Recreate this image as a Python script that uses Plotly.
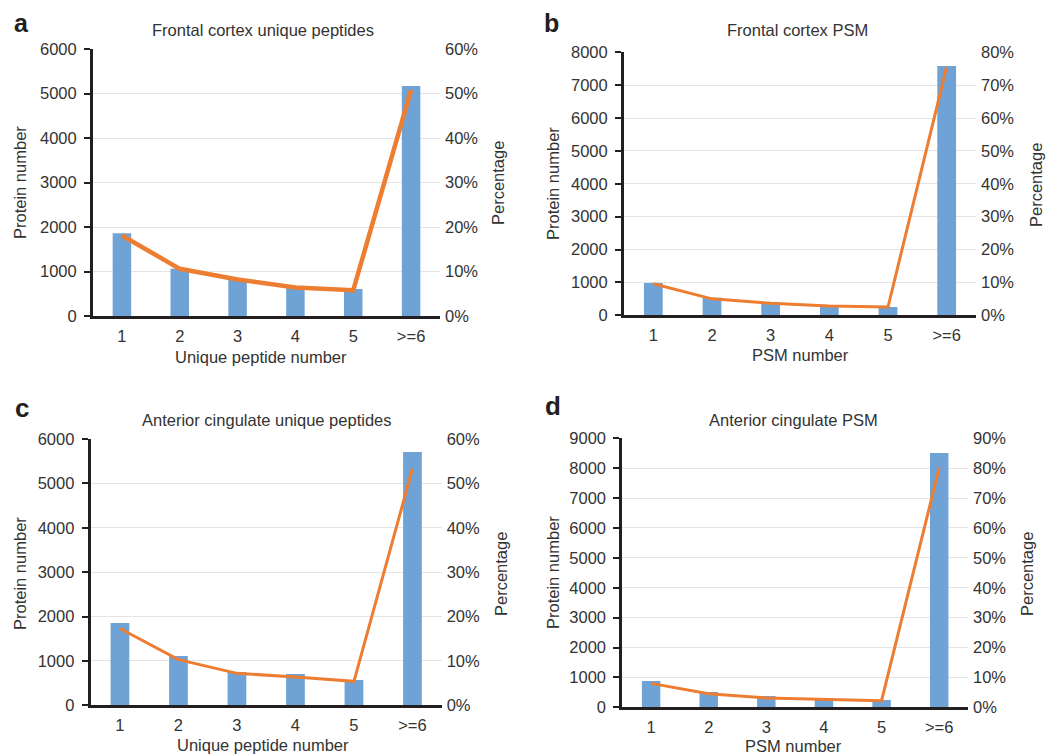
import plotly.graph_objects as go

# The page body adds an 8px margin, so the figure is drawn 8px smaller
# and all reference pixel positions are shifted by OFF.
OFF = 8
W, H = 1056 - OFF, 756 - OFF

categories = ["1", "2", "3", "4", "5", ">=6"]

fc_pep_counts = [1858, 1064, 830, 650, 607, 5169]
fc_pep_pct = [0.181, 0.106, 0.082, 0.064, 0.058, 0.508]

fc_psm_counts = [984, 537, 385, 284, 254, 7586]
fc_psm_pct = [0.096, 0.050, 0.0365, 0.028, 0.025, 0.756]

ac_pep_counts = [1854, 1111, 751, 706, 571, 5706]
ac_pep_pct = [0.173, 0.103, 0.072, 0.064, 0.054, 0.533]

ac_psm_counts = [881, 513, 379, 290, 245, 8509]
ac_psm_pct = [0.080, 0.045, 0.031, 0.027, 0.022, 0.801]

titles = ["Frontal cortex unique peptides", "Frontal cortex PSM",
          "Anterior cingulate unique peptides", "Anterior cingulate PSM"]
xtitles = ["Unique peptide number", "PSM number", "Unique peptide number", "PSM number"]
letters = ["a", "b", "c", "d"]
ymaxs = [6000, 8000, 6000, 9000]
pmaxs = [0.6, 0.8, 0.6, 0.9]
counts_list = [fc_pep_counts, fc_psm_counts, ac_pep_counts, ac_psm_counts]
pct_list = [fc_pep_pct, fc_psm_pct, ac_pep_pct, ac_psm_pct]

# pixel geometry in the reference: (left, right, top, bottom)
boxes = [(93, 440, 49, 316), (624, 976, 52.3, 315.3),
         (90.7, 441.7, 439, 705.3), (622.3, 968, 438.3, 707.3)]
title_pos = [(263, 30), (797, 30), (267, 420), (793, 420)]
xt_pos = [(261, 357), (800, 355), (263, 745), (793, 746)]
yt_pos = [(20, 183), (553, 184), (20, 574), (553, 573)]
rt_pos = [(498, 183), (1036, 185), (501, 574), (1027, 574)]
letter_pos = [(13, 20), (543, 20), (13, 408), (543, 406)]
line_widths = [4.5, 3, 3, 3]

BAR = "#70a3d5"
ORANGE = "#ed7d31"
DARK = "#231f20"
TXT = "#333333"
FONT = "Liberation Sans, Arial, sans-serif"


def px(x):
    return (x - OFF) / W


def py(y):
    return 1 - (y - OFF) / H


fig = go.Figure()
layout = {}
annotations = []

for k in range(4):
    xn = "x" if k == 0 else f"x{k+1}"
    yl_n = "y" if k == 0 else f"y{2*k+1}"
    yr_n = f"y{2*k+2}"
    xkey = "xaxis" if k == 0 else f"xaxis{k+1}"
    ylkey = "yaxis" if k == 0 else f"yaxis{2*k+1}"
    yrkey = f"yaxis{2*k+2}"
    l, r, t, b = boxes[k]

    fig.add_trace(go.Bar(x=categories, y=counts_list[k], xaxis=xn, yaxis=yl_n,
                         marker=dict(color=BAR, line=dict(width=0)), width=0.32,
                         showlegend=False, hoverinfo="skip"))
    fig.add_trace(go.Scatter(x=categories, y=pct_list[k], xaxis=xn, yaxis=yr_n,
                             mode="lines", line=dict(color=ORANGE, width=line_widths[k]),
                             showlegend=False, hoverinfo="skip"))

    layout[xkey] = dict(domain=[px(l), px(r)], anchor=yl_n, type="category",
                        range=[-0.5, 5.5], showline=True, linecolor=DARK, linewidth=3,
                        ticks="", showgrid=False, zeroline=False, automargin=False,
                        tickfont=dict(size=16.5, color=TXT, family=FONT),
                        ticklabelstandoff=3)
    layout[ylkey] = dict(domain=[py(b), py(t)], anchor=xn, range=[0, ymaxs[k]],
                         dtick=1000, showline=True, linecolor=DARK, linewidth=3,
                         ticks="outside", ticklen=6, tickwidth=2, tickcolor=DARK,
                         showgrid=True, gridcolor="#e4e4e4", gridwidth=1,
                         zeroline=False, automargin=False,
                         tickfont=dict(size=16.5, color=TXT, family=FONT),
                         ticklabelstandoff=4)
    layout[yrkey] = dict(domain=[py(b), py(t)], anchor=xn, overlaying=yl_n, side="right",
                         range=[0, pmaxs[k]], dtick=0.1, tickformat=".0%",
                         showline=False, ticks="", showgrid=False, zeroline=False,
                         automargin=False,
                         tickfont=dict(size=16.5, color=TXT, family=FONT),
                         ticklabelstandoff=4)

    annotations.append(dict(text=titles[k], x=px(title_pos[k][0]), y=py(title_pos[k][1]),
                            xref="paper", yref="paper", xanchor="center", yanchor="middle",
                            showarrow=False, font=dict(size=16.5, color=TXT, family=FONT)))
    annotations.append(dict(text=xtitles[k], x=px(xt_pos[k][0]), y=py(xt_pos[k][1]),
                            xref="paper", yref="paper", xanchor="center", yanchor="middle",
                            showarrow=False, font=dict(size=16.5, color=TXT, family=FONT)))
    annotations.append(dict(text="Protein number", x=px(yt_pos[k][0]), y=py(yt_pos[k][1]),
                            xref="paper", yref="paper", xanchor="center", yanchor="middle",
                            textangle=-90, showarrow=False,
                            font=dict(size=16.5, color=TXT, family=FONT)))
    annotations.append(dict(text="Percentage", x=px(rt_pos[k][0]), y=py(rt_pos[k][1]),
                            xref="paper", yref="paper", xanchor="center", yanchor="middle",
                            textangle=-90, showarrow=False,
                            font=dict(size=16.5, color=TXT, family=FONT)))
    if k < 2:
        # top-row letters: anchor the text box at the figure top so it is not clipped
        annotations.append(dict(text="<b>" + letters[k] + "</b>", x=px(letter_pos[k][0]),
                                y=1.0, xref="paper", yref="paper",
                                xanchor="left", yanchor="top", showarrow=False, borderpad=0,
                                font=dict(size=25, color=DARK, family=FONT)))
    else:
        annotations.append(dict(text="<b>" + letters[k] + "</b>", x=px(letter_pos[k][0]),
                                y=py(letter_pos[k][1]), xref="paper", yref="paper",
                                xanchor="left", yanchor="middle", showarrow=False,
                                font=dict(size=26, color=DARK, family=FONT)))

fig.update_layout(**layout)
fig.update_layout(width=W, height=H, margin=dict(l=0, r=0, t=0, b=0, autoexpand=False),
                  paper_bgcolor="white", plot_bgcolor="white",
                  annotations=annotations, barmode="overlay",
                  font=dict(family=FONT, color=TXT))

fig.write_html("out.html")
